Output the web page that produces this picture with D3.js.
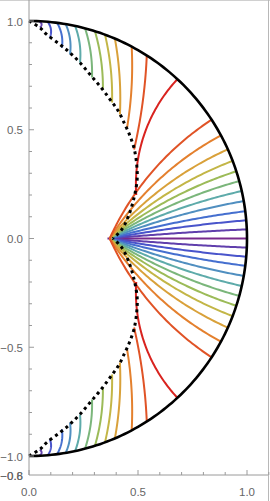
<!DOCTYPE html>
<html>
<head>
<meta charset="utf-8">
<script src="https://cdn.jsdelivr.net/npm/d3@7"></script>
<style>
  body { margin: 0; background: #fff; }
  svg { display: block; font-family: "Liberation Sans", Arial, sans-serif; }
</style>
</head>
<body>
<svg id="chart" width="270" height="501"></svg>
<script>
// cusp where the right-hand family starts (x on the axis)
const cuspX = 0.37;

// end angles (deg) on the unit circle, right-hand family (from the cusp)
const rightAngles = [2.4, 4.8, 7.2, 9.9, 12.6, 15.3, 18.0, 20.9, 24.2, 28.3, 33.1];

// end angles (deg) on the unit circle, upper family (from the dotted curve)
const upperAngles = [87.4, 85.1, 82.6, 80.3, 77.8, 75.1, 72.4, 69.6, 66.8, 61.9, 57.3];
// where each upper curve meets the dotted curve
const upperStarts = [
  [0.050, 0.970], [0.096, 0.924], [0.151, 0.878], [0.188, 0.846], [0.234, 0.809],
  [0.289, 0.740], [0.339, 0.685], [0.381, 0.625], [0.417, 0.570], [0.450, 0.510],
  [0.482, 0.409]
];
// the red boundary curve
const redAngle = 47.1;
const redStart = [0.492, 0.20];

// dotted envelope, upper half (mirrored below)
const envelope = [
  [0.0, 1.0], [0.050, 0.969], [0.081, 0.938], [0.142, 0.892], [0.188, 0.854],
  [0.234, 0.808], [0.280, 0.754], [0.326, 0.700], [0.372, 0.639], [0.410, 0.585],
  [0.440, 0.524], [0.462, 0.475], [0.482, 0.415], [0.494, 0.34], [0.496, 0.27],
  [0.480, 0.180], [0.456, 0.103], [0.425, 0.041], [0.385, 0.0]
];

const xTicks = [0.0, 0.5, 1.0];
const yTicks = [1.0, 0.5, 0.0, -0.5, -1.0];

const svg = d3.select("#chart");
const x = d3.scaleLinear().domain([0, 1]).range([29, 247]);
const y = d3.scaleLinear().domain([1, -1]).range([21, 456]);
const axisY = 475;

const rainbow = d3.scaleLinear()
  .domain([0, 0.2, 0.4, 0.55, 0.7, 0.85, 1])
  .range(["#782a8c", "#3f5cd8", "#58a9b4", "#8dbd5e", "#d2b441", "#e67a2c", "#d9231f"])
  .interpolate(d3.interpolateRgb);

const line = d3.line().x(d => x(d[0])).y(d => y(d[1]));
const rad = Math.PI / 180;

// arc of the circle meeting the unit circle at right angles at angle th, through point p
function orthoArc(th, p) {
  const b = [Math.cos(th * rad), Math.sin(th * rad)];
  const t = [-Math.sin(th * rad), Math.cos(th * rad)];
  const dx = b[0] - p[0], dy = b[1] - p[1];
  const dot = dx * t[0] + dy * t[1];
  if (Math.abs(dot) < 1e-6) return [p, b];
  const r = -(dx * dx + dy * dy) / (2 * dot);
  const c = [b[0] + r * t[0], b[1] + r * t[1]];
  const R = Math.abs(r);
  const a0 = Math.atan2(p[1] - c[1], p[0] - c[0]);
  let a1 = Math.atan2(b[1] - c[1], b[0] - c[0]);
  let da = a1 - a0;
  while (da > Math.PI) da -= 2 * Math.PI;
  while (da < -Math.PI) da += 2 * Math.PI;
  return d3.range(61).map(i => {
    const a = a0 + da * i / 60;
    return [c[0] + R * Math.cos(a), c[1] + R * Math.sin(a)];
  });
}

// gentle bow from p up to the circle at angle th, bulging to the right
function bowCurve(th, p, bow) {
  const b = [Math.cos(th * rad), Math.sin(th * rad)];
  const dx = b[0] - p[0], dy = b[1] - p[1];
  const l = Math.hypot(dx, dy);
  const n = [dy / l, -dx / l];
  const c = [(p[0] + b[0]) / 2 + 2 * bow * n[0], (p[1] + b[1]) / 2 + 2 * bow * n[1]];
  return d3.range(31).map(i => {
    const t = i / 30, u = 1 - t;
    return [0, 1].map(j => u * u * p[j] + 2 * u * t * c[j] + t * t * b[j]);
  });
}
const flip = pts => pts.map(d => [d[0], -d[1]]);

const curves = [];
curves.push({ pts: [[cuspX - 0.01, 0], [1, 0]], k: 0 });
rightAngles.forEach((a, i) => {
  const arc = orthoArc(a, [cuspX, 0]);
  curves.push({ pts: arc, k: (i + 1) / 12 });
  curves.push({ pts: flip(arc), k: (i + 1) / 12 });
});
upperAngles.forEach((a, i) => {
  const c = bowCurve(a, upperStarts[i], 0.01);
  curves.push({ pts: c, k: (i + 1) / 12 });
  curves.push({ pts: flip(c), k: (i + 1) / 12 });
});
const redArc = orthoArc(redAngle, redStart);
curves.push({ pts: redArc, k: 1 });
curves.push({ pts: flip(redArc), k: 1 });

// frame edges
svg.append("line").attr("x1", 0).attr("x2", 270).attr("y1", 0.5).attr("y2", 0.5)
  .attr("stroke", "#d0d0d0");
svg.append("line").attr("x1", 268.5).attr("x2", 268.5).attr("y1", 0).attr("y2", 501)
  .attr("stroke", "#b8b8b8");

// colored curves
svg.append("g").selectAll("path")
  .data(curves)
  .join("path")
  .attr("d", d => line(d.pts))
  .attr("fill", "none")
  .attr("stroke", d => rainbow(d.k))
  .attr("stroke-width", 2);

// unit circle, right half
const circlePts = d3.range(-90, 90.5, 1).map(a => [Math.cos(a * rad), Math.sin(a * rad)]);
svg.append("path")
  .attr("d", line(circlePts))
  .attr("fill", "none")
  .attr("stroke", "#000")
  .attr("stroke-width", 2.6);

// dotted envelope
const envLine = d3.line().x(d => x(d[0])).y(d => y(d[1])).curve(d3.curveCatmullRom);
[envelope, flip(envelope)].forEach(pts => {
  svg.append("path")
    .attr("d", envLine(pts))
    .attr("fill", "none")
    .attr("stroke", "#000")
    .attr("stroke-width", 3)
    .attr("stroke-dasharray", "3,3.6");
});

// axes
const axisColor = "#9a9a9a";
const labelColor = "#666";
const ax = svg.append("g");
ax.append("line").attr("x1", x(0)).attr("x2", 268).attr("y1", axisY).attr("y2", axisY)
  .attr("stroke", axisColor);
ax.append("line").attr("x1", x(0)).attr("x2", x(0)).attr("y1", 0).attr("y2", axisY)
  .attr("stroke", axisColor);

// x ticks
d3.range(0, 1.11, 0.1).forEach(v => {
  const major = xTicks.some(t => Math.abs(t - v) < 1e-6);
  ax.append("line").attr("x1", x(v)).attr("x2", x(v))
    .attr("y1", axisY).attr("y2", axisY - (major ? 5 : 3))
    .attr("stroke", axisColor);
});
xTicks.forEach(v => {
  ax.append("text").attr("x", x(v)).attr("y", axisY + 21)
    .attr("text-anchor", "middle").attr("font-size", 11.5).attr("fill", labelColor)
    .text(v.toFixed(1));
});

// y ticks
d3.range(-1.0, 1.11, 0.1).forEach(v => {
  const major = yTicks.some(t => Math.abs(t - v) < 1e-6);
  ax.append("line").attr("x1", x(0)).attr("x2", x(0) + (major ? 5 : 3))
    .attr("y1", y(v)).attr("y2", y(v))
    .attr("stroke", axisColor);
});
yTicks.forEach(v => {
  ax.append("text").attr("x", 23).attr("y", y(v) + 4.5)
    .attr("text-anchor", "end").attr("font-size", 11.5).attr("fill", labelColor)
    .text(v.toFixed(1).replace("-", "\u2212"));
});
// overlapping labels at the axis crossing
["\u22120.8", "\u22120.6"].forEach(s => {
  ax.append("text").attr("x", 23).attr("y", axisY + 4.5)
    .attr("text-anchor", "end").attr("font-size", 11.5).attr("fill", labelColor)
    .text(s);
});
</script>
</body>
</html>
